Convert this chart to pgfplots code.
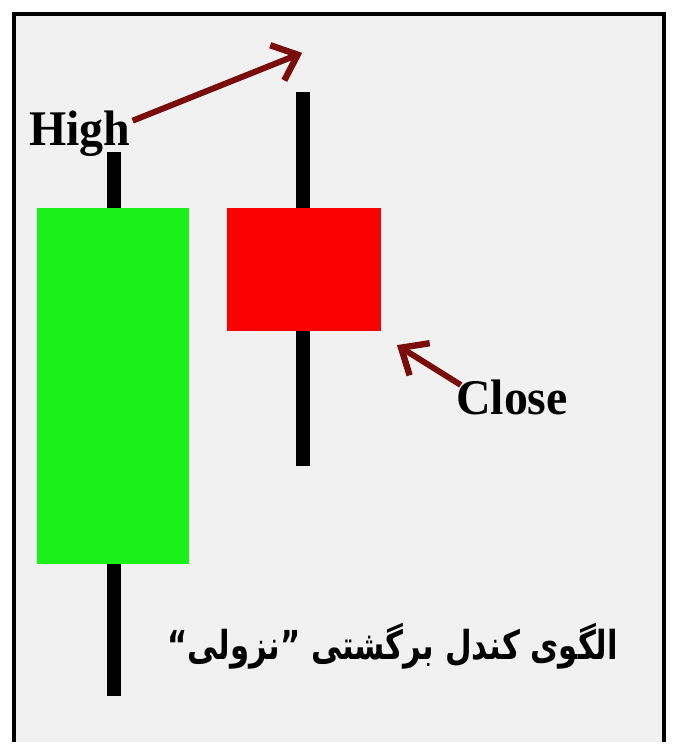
\documentclass[border=0pt]{standalone}
\usepackage{fontspec}
\setmainfont{Liberation Serif}
\newfontfamily\arabicfont[Script=Arabic]{DejaVu Sans}
\TeXXeTstate=1
\usepackage{graphicx}
\usepackage{pgfplots}
\pgfplotsset{compat=1.18}
\usetikzlibrary{arrows.meta}
\definecolor{bg}{RGB}{241,241,241}
\definecolor{bull}{RGB}{26,240,26}
\definecolor{bear}{RGB}{250,0,0}
\definecolor{arr}{RGB}{122,12,12}

\begin{document}
\begin{tikzpicture}
  % pixel coordinates of the picture, y downwards
  \begin{axis}[
      x=0.5pt, y=0.5pt,
      xmin=0, xmax=674, ymin=0, ymax=744,
      y dir=reverse,
      hide axis,
      scale only axis,
      clip=false,
    ]
    % page and panel (bottom edge is cut off)
    \addplot[draw=none, fill=white] coordinates {(0,0) (674,0) (674,744) (0,744)} -- cycle;
    \addplot[draw=none, fill=bg] coordinates {(14,14) (666,14) (666,744) (14,744)} -- cycle;
    \addplot[black, line width=2pt, line join=miter] coordinates {(14,744) (14,14) (666,14) (666,744)};
    % wicks
    \addplot[black, line width=7pt] coordinates {(114,152) (114,698)};
    \addplot[black, line width=7pt] coordinates {(304,92) (304,467)};
    % bodies
    \addplot[draw=none, fill=bull] coordinates {(37,209) (190,209) (190,566) (37,566)} -- cycle;
    \addplot[draw=none, fill=bear] coordinates {(228,209) (382,209) (382,332) (228,332)} -- cycle;
    % labels
    \node[anchor=base west, inner sep=0pt, font=\bfseries\fontsize{25}{25}\selectfont]
      at (axis cs:29,146) {\scalebox{0.96}[1]{High}};
    \node[anchor=base west, inner sep=0pt, font=\bfseries\fontsize{25}{25}\selectfont]
      at (axis cs:457,416) {\scalebox{0.96}[1]{Close}};
    \draw[arr, line width=3pt, -{Straight Barb[length=11pt, width=19pt, line width=3.2pt]}]
      (axis cs:133,121) -- (axis cs:303,53);
    \draw[arr, line width=3pt, -{Straight Barb[length=11pt, width=19pt, line width=3.2pt]}]
      (axis cs:462,386) -- (axis cs:398,346);
    \node[anchor=base east, inner sep=0pt, font=\arabicfont\bfseries\fontsize{20}{20}\selectfont]
      at (axis cs:620,661) {\scalebox{0.77}[1]{\beginR الگوی کندل برگشتی ”نزولی“\endR}};
  \end{axis}
\end{tikzpicture}
\end{document}
